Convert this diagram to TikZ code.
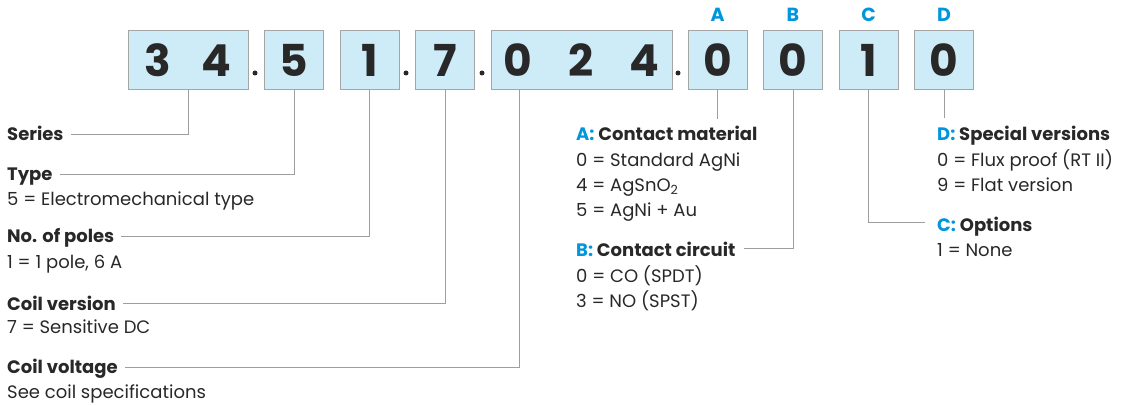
\documentclass[tikz,border=0pt]{standalone}
\usepackage{fontspec}
\setmainfont{Poppins}
\usetikzlibrary{calc}

\definecolor{boxblue}{RGB}{206,235,248}
\definecolor{boxline}{RGB}{165,165,165}
\definecolor{leadgrey}{RGB}{158,158,158}
\definecolor{keyblue}{RGB}{0,150,219}
\definecolor{ink}{RGB}{40,40,40}

\tikzset{
  digitbox/.style={draw=boxline, line width=1pt, fill=boxblue, minimum width=59pt,
    minimum height=59pt, inner sep=0pt, text=ink, font=\fontsize{44}{44}\selectfont\bfseries},
  lead/.style={draw=leadgrey, line width=1pt},
  keyletter/.style={text=keyblue, inner sep=0pt, font=\fontsize{19}{19}\selectfont\bfseries},
  title/.style={anchor=base west, inner sep=0pt, text=ink, font=\fontsize{18}{18}\selectfont\bfseries},
  info/.style={anchor=base west, inner sep=0pt, text=ink, font=\fontsize{18}{18}\selectfont},
}

\begin{document}
\begin{tikzpicture}[x=1pt, y=-1pt]
  \useasboundingbox (0,0) rectangle (1128,406);

  \node[digitbox, minimum width=120pt] (series) at (188,60.5) {3\hspace{30pt}4};
  \node[digitbox] (type) at (294,60.5) {5};
  \node[digitbox] (poles) at (369.5,60.5) {1};
  \node[digitbox] (coilver) at (445,60.5) {7};
  \node[digitbox, minimum width=181pt] (coilvolt) at (581.5,60.5) {0\hspace{36pt}2\hspace{36pt}4};
  \node[digitbox] (boxA) at (717.5,60.5) {0};
  \node[digitbox] (boxB) at (793,60.5) {0};
  \node[digitbox] (boxC) at (868.5,60.5) {1};
  \node[digitbox] (boxD) at (944,60.5) {0};

  \foreach \x in {255, 406, 482, 678} \fill[ink] (\x,73) circle (2.5pt);

  \foreach \k in {A, B, C, D} \node[keyletter] (key\k) at ($(box\k.north)+(0,-16)$) {\k};

  \node[title] (seriesT) at (7,141) {Series};
  \node[title] (typeT) at (7,181) {Type};
  \node[info] (typeI) at (7,206) {5 = Electromechanical type};
  \node[title] (polesT) at (7,243) {No. of poles};
  \node[info] (polesI) at (7,269) {1 = 1 pole, 6 A};
  \node[title] (coilverT) at (7,310) {Coil version};
  \node[info] (coilverI) at (7,334) {7 = Sensitive DC};
  \node[title] (coilvoltT) at (7,373) {Coil voltage};
  \node[info] (coilvoltI) at (7,398) {See coil specifications};

  \node[title] (titleA) at (576,141) {\textcolor{keyblue}{A:} Contact material};
  \foreach \txt [count=\i] in {0 = Standard AgNi, 4 = AgSnO\textsubscript{2}, 5 = AgNi + Au}
    \node[info] (infoA\i) at (576,141+25.3*\i) {\txt};
  \node[title] (titleB) at (576,257) {\textcolor{keyblue}{B:} Contact circuit};
  \foreach \txt [count=\i] in {0 = CO (SPDT), 3 = NO (SPST)}
    \node[info] (infoB\i) at (576,257+25.5*\i) {\txt};
  \node[title] (titleC) at (937,232) {\textcolor{keyblue}{C:} Options};
  \node[info] (infoC1) at (937,257) {1 = None};
  \node[title] (titleD) at (937,141) {\textcolor{keyblue}{D:} Special versions};
  \foreach \txt [count=\i] in {0 = Flux proof (RT II), 9 = Flat version}
    \node[info] (infoD\i) at (937,141+25.5*\i) {\txt};

  \draw[lead] (series.south) |- ($(seriesT.base east)+(7,-6)$);
  \draw[lead] (type.south) |- ($(typeT.base east)+(7,-6)$);
  \draw[lead] (poles.south) |- ($(polesT.base east)+(7,-6)$);
  \draw[lead] (coilver.south) |- ($(coilverT.base east)+(7,-6)$);
  \draw[lead] ([xshift=29pt]coilvolt.south west) |- ($(coilvoltT.base east)+(7,-6)$);
  \draw[lead] (boxA.south) -- ($(boxA.south |- titleA.base)+(0,-22)$);
  \draw[lead] (boxB.south) |- ($(titleB.base east)+(8,-8)$);
  \draw[lead] (boxC.south) |- ($(titleC.base west)+(-12,-9)$);
  \draw[lead] (boxD.south) -- ($(boxD.south |- titleD.base)+(0,-23)$);
\end{tikzpicture}
\end{document}
